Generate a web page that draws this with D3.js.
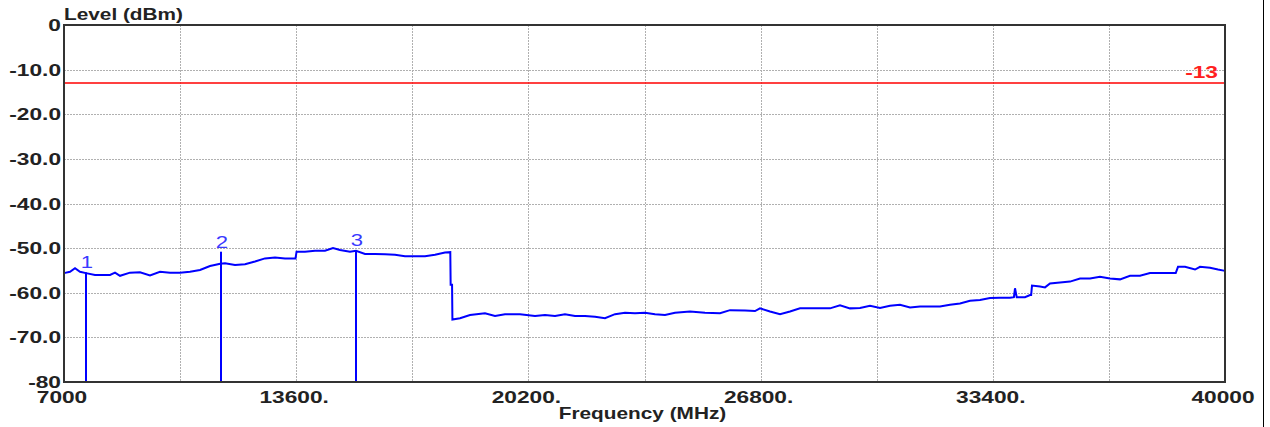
<!DOCTYPE html>
<html>
<head>
<meta charset="utf-8">
<script src="https://cdn.jsdelivr.net/npm/d3@7"></script>
<style>
  body { margin: 0; background: #fff; }
  text { font-family: "Liberation Sans", Arial, sans-serif; }
</style>
</head>
<body>
<script>
// spectrum trace (MHz, dBm)
var freq = [7000, 7171, 7313, 7455, 7625, 7881, 8308, 8450, 8592, 8876, 9160, 9444, 9729,
  10013, 10297, 10581, 10866, 11150, 11377, 11440, 11576, 11861, 12145, 12429, 12713, 12998,
  13282, 13580, 13610, 13850, 14134, 14419, 14646, 14845, 15129, 15300, 15556, 15840, 16124,
  16408, 16693, 16977, 17261, 17545, 17830, 17980, 17990, 18030, 18040, 18256, 18540, 18966,
  19251, 19535, 19961, 20388, 20672, 20956, 21240, 21525, 21809, 22093, 22377, 22662, 22946,
  23230, 23514, 23799, 24083, 24367, 24793, 25220, 25646, 25930, 26357, 26641, 26783, 27067,
  27352, 27636, 27920, 28346, 28773, 29057, 29341, 29626, 29910, 30194, 30478, 30762, 31047,
  31331, 31615, 31899, 32184, 32468, 32752, 33036, 33321, 33605, 33889, 34000, 34031, 34080,
  34117, 34315, 34458, 34490, 34514, 34742, 34884, 35026, 35310, 35595, 35879, 36163, 36447,
  36731, 37016, 37300, 37584, 37868, 38153, 38437, 38600, 38664, 38863, 39148, 39290, 39574,
  39801, 40000];
var level = [-55.6, -55.3, -54.5, -55.3, -55.6, -56.0, -56.0, -55.5, -56.2, -55.5, -55.4, -56.1, -55.3,
  -55.5, -55.5, -55.3, -54.9, -54.0, -53.6, -53.5, -53.4, -53.8, -53.6, -53.0, -52.3, -52.1,
  -52.3, -52.3, -50.8, -50.8, -50.6, -50.6, -50.0, -50.4, -50.8, -50.6, -51.3, -51.3, -51.4,
  -51.5, -51.8, -51.8, -51.8, -51.5, -51.0, -50.9, -58.2, -58.2, -66.0, -65.7, -65.0, -64.6,
  -65.2, -64.8, -64.8, -65.2, -65.0, -65.2, -64.8, -65.2, -65.2, -65.4, -65.7, -64.8, -64.5,
  -64.6, -64.5, -64.8, -65.0, -64.5, -64.2, -64.5, -64.6, -63.9, -64.0, -64.1, -63.5, -64.2,
  -64.8, -64.2, -63.5, -63.5, -63.5, -62.8, -63.5, -63.4, -62.9, -63.4, -62.9, -62.7, -63.3,
  -63.1, -63.1, -63.1, -62.7, -62.4, -61.8, -61.6, -61.2, -61.1, -61.1, -61.0, -59.0, -61.0,
  -61.0, -61.0, -60.5, -60.5, -58.4, -58.6, -58.8, -57.9, -57.7, -57.5, -56.8, -56.8, -56.4,
  -56.8, -57.0, -56.2, -56.2, -55.6, -55.6, -55.6, -55.6, -54.2, -54.2, -54.8, -54.2, -54.4,
  -54.8, -55.1];

// markers
var markerNames = ["1", "2", "3"];
var markerFreq = [7625, 11463, 15300];
var markerLevel = [-55.4, -50.8, -50.5];

var limitLevel = -13;
var xTicks = [7000, 10300, 13600, 16900, 20200, 23500, 26800, 30100, 33400, 36700, 40000];
var xTickLabels = ["7000", "", "13600.", "", "20200.", "", "26800.", "", "33400.", "", "40000"];
var yTicks = [0, -10, -20, -30, -40, -50, -60, -70, -80];
var yTickLabels = ["0", "-10.0", "-20.0", "-30.0", "-40.0", "-50.0", "-60.0", "-70.0", "-80"];

var margin = {top: 25, right: 45, bottom: 45, left: 64},
    width = 1270 - margin.left - margin.right,
    height = 427 - margin.top - margin.bottom;

var sxNum = 1.42, sxWord = 1.3;

var svg = d3.select("body").append("svg")
  .attr("width", 1270)
  .attr("height", 427);

var g = svg.append("g")
  .attr("transform", "translate(" + margin.left + "," + margin.top + ")");

var x = d3.scaleLinear().domain([7000, 40000]).range([0, width]);
var y = d3.scaleLinear().domain([-80, 0]).range([height, 0]);

// grid
g.append("g").selectAll("line")
  .data(xTicks.slice(1, -1))
  .enter().append("line")
  .attr("x1", function(d) { return Math.round(x(d)) + 0.5; })
  .attr("x2", function(d) { return Math.round(x(d)) + 0.5; })
  .attr("y1", 0).attr("y2", height)
  .attr("stroke", "#b0b0b0")
  .attr("stroke-dasharray", "2,1");

g.append("g").selectAll("line")
  .data(yTicks.slice(1, -1))
  .enter().append("line")
  .attr("y1", function(d) { return Math.round(y(d)) + 0.5; })
  .attr("y2", function(d) { return Math.round(y(d)) + 0.5; })
  .attr("x1", 0).attr("x2", width)
  .attr("stroke", "#b0b0b0")
  .attr("stroke-dasharray", "2,1");

// limit line
g.append("line")
  .attr("x1", 0).attr("x2", width)
  .attr("y1", y(limitLevel)).attr("y2", y(limitLevel))
  .attr("stroke", "#ff0000")
  .attr("stroke-width", 1.5);

g.append("text")
  .attr("transform", "translate(" + (width - 7) + "," + (y(limitLevel) - 5) + ") scale(" + sxNum + ",1)")
  .attr("text-anchor", "end")
  .attr("fill", "#ff2020")
  .attr("font-weight", "bold")
  .attr("font-size", 16)
  .text(String(limitLevel));

// trace
var pts = freq.map(function(f, i) { return [f, level[i]]; });
var line = d3.line()
  .x(function(d) { return x(d[0]); })
  .y(function(d) { return y(d[1]); });

g.append("path")
  .datum(pts)
  .attr("d", line)
  .attr("fill", "none")
  .attr("stroke", "#0000ff")
  .attr("stroke-width", 2);

// markers
var mk = g.append("g").selectAll("g")
  .data(markerNames)
  .enter().append("g");

mk.append("line")
  .attr("x1", function(d, i) { return x(markerFreq[i]); })
  .attr("x2", function(d, i) { return x(markerFreq[i]); })
  .attr("y1", function(d, i) { return y(markerLevel[i]); })
  .attr("y2", height)
  .attr("stroke", "#0000ff")
  .attr("stroke-width", 2);

mk.append("text")
  .attr("transform", function(d, i) {
    return "translate(" + (x(markerFreq[i]) + 1) + "," + (y(markerLevel[i]) - 4) + ") scale(1.3,1)";
  })
  .attr("text-anchor", "middle")
  .attr("fill", "#3a3aff")
  .attr("font-size", 17)
  .text(function(d) { return d; });

// frame
g.append("rect")
  .attr("x", 0).attr("y", 0)
  .attr("width", width).attr("height", height)
  .attr("fill", "none")
  .attr("stroke", "#333")
  .attr("stroke-width", 2);

svg.append("line")
  .attr("x1", 1263.5).attr("x2", 1263.5)
  .attr("y1", 0).attr("y2", 427)
  .attr("stroke", "#000");

// tick labels
g.append("g").selectAll("text")
  .data(yTicks)
  .enter().append("text")
  .attr("transform", function(d) { return "translate(-3," + (y(d) + 6) + ") scale(" + sxNum + ",1)"; })
  .attr("text-anchor", "end")
  .attr("font-weight", "bold")
  .attr("font-size", 16)
  .attr("fill", "#222")
  .text(function(d, i) { return yTickLabels[i]; });

g.append("g").selectAll("text")
  .data(xTicks)
  .enter().append("text")
  .attr("transform", function(d) { return "translate(" + (x(d) - 2) + "," + (height + 21) + ") scale(" + sxNum + ",1)"; })
  .attr("text-anchor", "middle")
  .attr("font-weight", "bold")
  .attr("font-size", 16)
  .attr("fill", "#222")
  .text(function(d, i) { return xTickLabels[i]; });

// titles
svg.append("text")
  .attr("transform", "translate(" + margin.left + ",20) scale(" + sxWord + ",1)")
  .attr("font-weight", "bold")
  .attr("font-size", 16)
  .attr("fill", "#222")
  .text("Level (dBm)");

svg.append("text")
  .attr("transform", "translate(" + (margin.left + width / 2 - 2) + ",419) scale(" + sxWord + ",1)")
  .attr("text-anchor", "middle")
  .attr("font-weight", "bold")
  .attr("font-size", 16)
  .attr("fill", "#222")
  .text("Frequency (MHz)");
</script>
</body>
</html>
